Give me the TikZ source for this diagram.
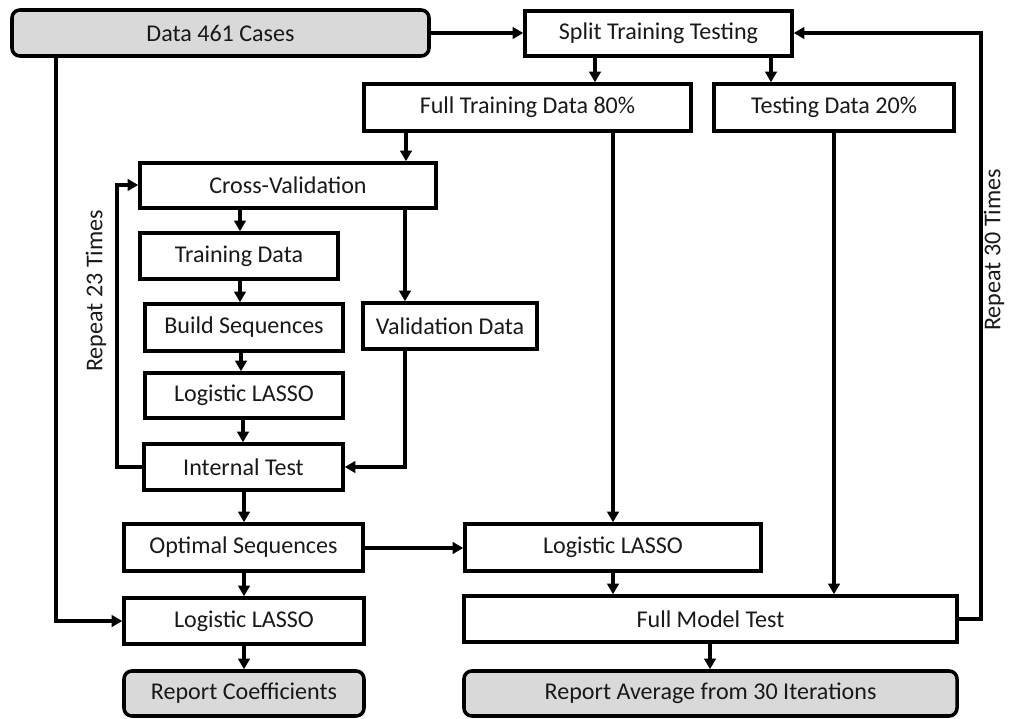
\documentclass[tikz,border=0pt]{standalone}
\usepackage{fontspec}
\setmainfont{Carlito}
\usetikzlibrary{arrows.meta}
\definecolor{boxgray}{HTML}{D9D9D9}
\tikzset{
  box/.style={draw=black,line width=2pt,fill=white,inner sep=0pt,font=\fontsize{13.7}{15}\selectfont,text=black!90},
  term/.style={box,fill=boxgray,rounded corners=4.5pt},
  arr/.style={line width=1.8pt,-{Triangle[length=6pt,width=6.5pt]}},
  lbl/.style={font=\fontsize{13.7}{15}\selectfont,text=black!90,rotate=90,inner sep=0pt}
}
\newcommand\bx[7][]{\node[box,#1,minimum width={(#4-#2)*0.02cm},minimum height={(#5-#3)*0.02cm}] (#6) at ({(#2+#4)/2},{(#3+#5)/2}) {#7};}
\begin{document}
\begin{tikzpicture}[x=0.02cm,y=-0.02cm]
\useasboundingbox (0,0) rectangle (1011,719);
\bx[term]{12}{10}{429}{56}{data}{Data 461 Cases}
\bx{525}{11}{792}{56}{split}{Split Training Testing}
\bx{364}{84}{691}{131}{full}{Full Training Data 80\%}
\bx{714}{84}{954}{131}{testing}{Testing Data 20\%}
\bx{140}{163}{436}{208}{cv}{Cross-Validation}
\bx{140}{233}{338}{279}{train}{Training Data}
\bx{145}{304}{343}{351}{build}{Build Sequences}
\bx{363}{303}{537}{349}{valid}{Validation Data}
\bx{145}{373}{343}{418}{lassoA}{Logistic LASSO}
\bx{144}{444}{343}{490}{internal}{Internal Test}
\bx{124}{524}{363}{571}{optimal}{Optimal Sequences}
\bx{465}{524}{761}{571}{lassoB}{Logistic LASSO}
\bx{124}{598}{364}{644}{lassoC}{Logistic LASSO}
\bx{464}{596}{957}{642}{fullmodel}{Full Model Test}
\bx[term]{124}{671}{364}{716}{repcoef}{Report Coefficients}
\bx[term]{464}{671}{957}{716}{repavg}{Report Average from 30 Iterations}
% labels
\node[lbl] (rep23) at (96,291) {Repeat 23 Times};
\node[lbl] (rep30) at (994,250) {Repeat 30 Times};
% connectors
\draw[arr] (data.east) -- (data.east -| split.west);
\draw[arr] (split.south -| 595,0) -- (full.north -| 595,0);
\draw[arr] (split.south -| 771,0) -- (testing.north -| 771,0);
\draw[arr] (full.south -| 406,0) -- (cv.north -| 406,0);
\draw[arr] (full.south -| 613,0) -- (lassoB.north -| 613,0);
\draw[arr] (testing.south -| 834,0) -- (fullmodel.north -| 834,0);
\draw[arr] (cv.south -| 240,0) -- (train.north -| 240,0);
\draw[arr] (cv.south -| 405,0) -- (valid.north -| 405,0);
\draw[arr] (train.south -| 240,0) -- (build.north -| 240,0);
\draw[arr] (build.south -| 241,0) -- (lassoA.north -| 241,0);
\draw[arr] (lassoA.south -| 243,0) -- (internal.north -| 243,0);
\draw[arr] (valid.south -| 405,0) -- (405,467) -- (internal.east |- 0,467);
\draw[arr] (internal.west |- 0,467) -- (117,467) -- (117,185) -- (cv.west |- 0,185);
\draw[arr] (internal.south -| 244,0) -- (optimal.north -| 244,0);
\draw[arr] (optimal.south -| 244,0) -- (lassoC.north -| 244,0);
\draw[arr] (lassoC.south -| 244,0) -- (repcoef.north -| 244,0);
\draw[arr] (optimal.east |- 0,548) -- (lassoB.west |- 0,548);
\draw[arr] (lassoB.south -| 613,0) -- (fullmodel.north -| 613,0);
\draw[arr] (fullmodel.south -| 710,0) -- (repavg.north -| 710,0);
\draw[arr] (data.south -| 56,0) -- (56,621) -- (lassoC.west |- 0,621);
\draw[arr] (fullmodel.east |- 0,619) -- (981,619) -- (981,33) -- (split.east |- 0,33);
\end{tikzpicture}
\end{document}
